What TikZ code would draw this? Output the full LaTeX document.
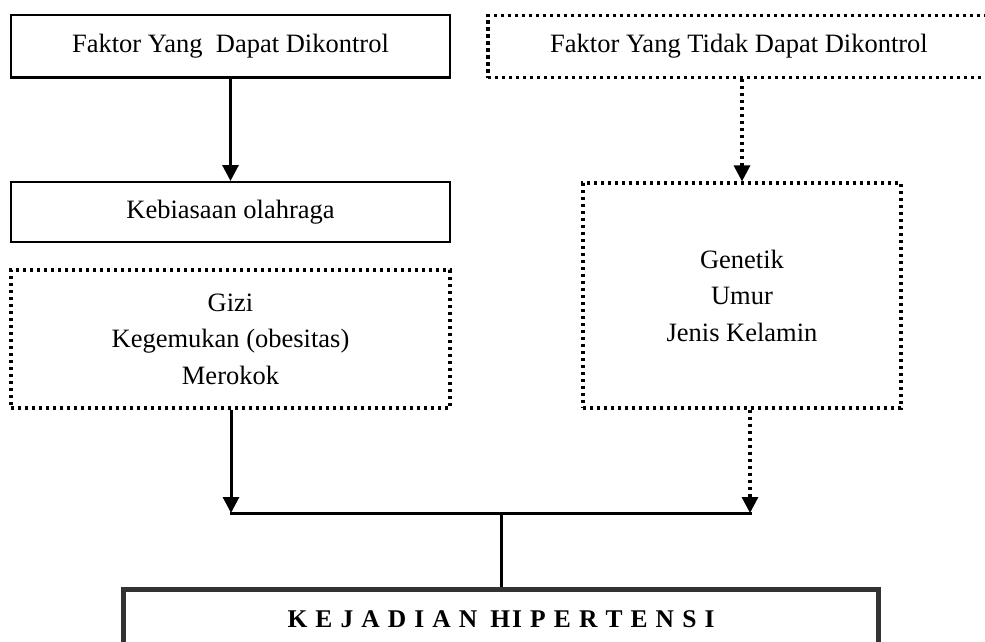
\documentclass[tikz,border=0pt]{standalone}
\usepackage{fontspec}
\setmainfont{Liberation Serif}
\usetikzlibrary{arrows.meta}
\newcommand\kgap{\hspace{8.1pt}}
\begin{document}
\begin{tikzpicture}[x=1pt,y=-1pt,
  every node/.style={inner sep=0pt, align=center, font=\fontsize{26.5}{36.5}\selectfont},
  solidbox/.style={draw, line width=2pt},
  dotbox/.style={draw, line width=3.2pt, dash pattern=on 3.2pt off 3.8pt},
  finalbox/.style={draw=black!80, line width=5pt},
  arr/.style={line width=3pt, -{Triangle[length=16pt,width=16pt]}},
  darr/.style={line width=3.2pt, dash pattern=on 3.2pt off 3.8pt, -{Triangle[length=16pt,width=16pt]}},
  jline/.style={line width=3pt}]
\useasboundingbox (0,0) rectangle (985,642);

\node[solidbox, minimum width=439pt, minimum height=62pt] (A) at (230.5,46.5) {Faktor Yang~~Dapat Dikontrol};
\node[dotbox, minimum width=502pt, minimum height=62pt] (B) at (739,46.5) {Faktor Yang Tidak Dapat Dikontrol};
\node[solidbox, minimum width=439pt, minimum height=60pt] (C) at (230.5,212) {Kebiasaan olahraga};
\node[dotbox, minimum width=439pt, minimum height=138pt] (D) at (230.5,339) {Gizi\\Kegemukan (obesitas)\\Merokok};
\node[dotbox, minimum width=318pt, minimum height=225pt] (E) at (742,295.5) {Genetik\\Umur\\Jenis Kelamin};
\node[finalbox, minimum width=755pt, minimum height=60pt, font=\fontsize{25.5}{30}\selectfont\bfseries] (F) at (501,619)
  {K\kgap E\kgap J\kgap A\kgap D\kgap I\kgap A\kgap N\hspace{13pt}H\hspace{2pt}I\kgap P\kgap E\kgap R\kgap T\kgap E\kgap N\kgap S\kgap I};

\coordinate (jl) at (231,513);
\coordinate (jr) at (750,513);
\coordinate (jm) at (501,513);

\draw[arr] (A.south) -- (C.north);
\draw[darr] (E.north |- B.south) -- (E.north);
\draw[arr] (D.south -| jl) -- (jl);
\draw[darr] (E.south -| jr) -- (jr);
\draw[jline] ([xshift=-1.5pt]jl) -- ([xshift=1.5pt]jr);
\draw[jline] (jm) -- (F.north);
\end{tikzpicture}
\end{document}
